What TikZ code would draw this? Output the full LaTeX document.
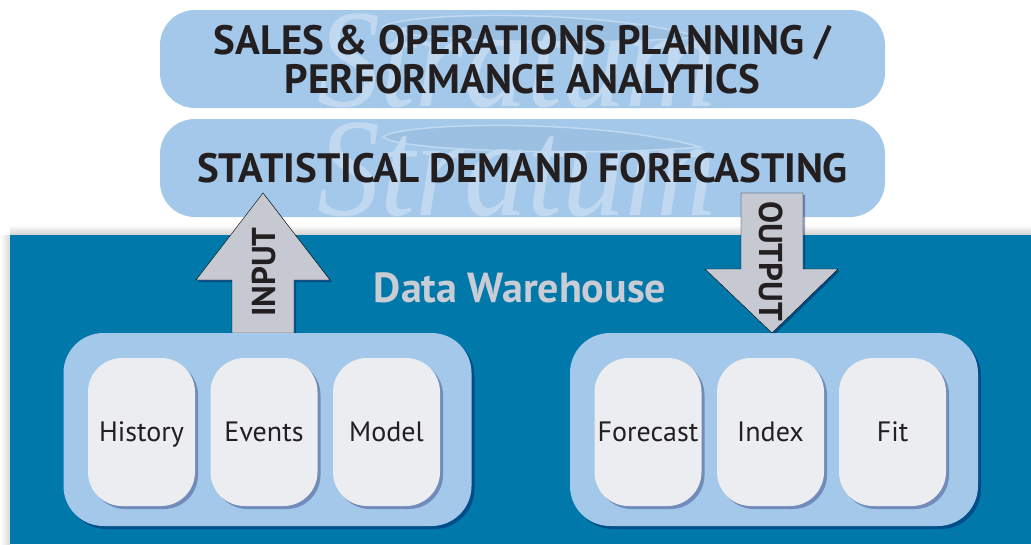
\documentclass[tikz,border=0pt]{standalone}
\usepackage{fontspec}
\setmainfont{PT Sans}
\newfontfamily\logofont{Liberation Serif}
\usetikzlibrary{shadows}
\definecolor{boxblue}{HTML}{A3C8EA}
\definecolor{dwblue}{HTML}{0079AA}
\definecolor{cellgrey}{HTML}{ECEDF1}
\definecolor{arrowgrey}{HTML}{C6C9D1}
\definecolor{dwtext}{HTML}{C9CCD4}
\definecolor{logoblue}{HTML}{C0D9F1}
\definecolor{swooshblue}{HTML}{9CC0E2}
\definecolor{inktext}{HTML}{231F20}

\begin{document}
\begin{tikzpicture}[x=1pt,y=-1pt,
  titlebox/.style={fill=boxblue, rounded corners=35pt, minimum width=725pt, minimum height=98pt, inner sep=0pt},
  titletext/.style={font=\bfseries\fontsize{41}{39}\selectfont, text=inktext, align=center},
  logo/.style={font=\logofont\itshape\fontsize{140}{140}\selectfont, text=logoblue, anchor=base, inner sep=0pt, xscale=.9},
  swoosh/.style={fill=swooshblue, draw=logoblue, line width=1.5pt},
  warehouse/.style={fill=dwblue, minimum width=1021pt, minimum height=309pt, inner sep=0pt},
  groupbox/.style={fill=boxblue, rounded corners=40pt, minimum width=408pt, minimum height=193pt, inner sep=0pt,
    drop shadow={shadow xshift=3pt, shadow yshift=-3pt, opacity=.35, fill=black!70!blue}},
  cell/.style={fill=cellgrey, rounded corners=34pt, minimum width=107pt, minimum height=148pt, inner sep=0pt,
    font=\fontsize{28}{28}\selectfont, text=inktext, text height=19pt, text depth=0pt,
    drop shadow={shadow xshift=3pt, shadow yshift=-3pt, opacity=.3, fill=black!70!blue}},
  blockarrow/.style={fill=arrowgrey, drop shadow={shadow xshift=2pt, shadow yshift=-2pt, opacity=.35, fill=black!70!blue}},
  arrowtext/.style={font=\bfseries\fontsize{33}{33}\selectfont, text=inktext, inner sep=0pt}]
\useasboundingbox (0,0) rectangle (1031,544);

% planning and forecasting bars
\node[titlebox] (sop) at (522.5,59) {};
\node[titlebox] (sdf) at (522.5,168) {};
\begin{scope}
\clip[rounded corners=35pt] (sop.south west) rectangle (sop.north east);
\fill[swoosh] (383,27) .. controls (400,12) and (600,8) .. (700,37) .. controls (600,46) and (400,42) .. (383,27) -- cycle;
\node[logo] (soplogo) at (517,106) {Stratum};
\end{scope}
\begin{scope}
\clip[rounded corners=35pt] (sdf.south west) rectangle (sdf.north east);
\fill[swoosh] (383,137) .. controls (400,122) and (600,118) .. (700,147) .. controls (600,156) and (400,152) .. (383,137) -- cycle;
\node[logo] (sdflogo) at (517,215) {Stratum};
\end{scope}
\node[titletext] (soptext) at (522.5,60) {SALES \& OPERATIONS PLANNING /\\PERFORMANCE ANALYTICS};
\node[titletext] (sdftext) at (sdf) {STATISTICAL DEMAND FORECASTING};

% data warehouse
\shade[top color=white, bottom color=black!18] (10,225) rectangle (1031,235);
\shade[left color=white, right color=black!15] (0,235) rectangle (10,544);
\node[warehouse] (dw) at (520.5,389.5) {};
\node[font=\bfseries\fontsize{42}{42}\selectfont, text=dwtext] (dwtitle) at (520,288) {Data Warehouse};

% input / output arrows
\draw[blockarrow] (232,333) -- (232,280) -- (196,280) -- (263,193) -- (330,280) -- (294,280) -- (294,333) -- cycle;
\node[arrowtext, rotate=90] (input) at (264,272) {INPUT};
\draw[blockarrow] (741,193) -- (803,193) -- (803,269) -- (838,269) -- (772,333) -- (705,269) -- (741,269) -- cycle;
\node[arrowtext, rotate=-90] (output) at (771,261) {OUTPUT};

% stored tables
\node[groupbox] (inbox) at (267.5,429.5) {};
\node[groupbox] (outbox) at (774,429.5) {};
\node[cell] (history) at (141.5,432) {History};
\node[cell] (events) at (264,432) {Events};
\node[cell] (model) at (386.5,432) {Model};
\node[cell] (forecast) at (648,432) {Forecast};
\node[cell] (index) at (770.5,432) {Index};
\node[cell] (fit) at (892.5,432) {Fit};
\end{tikzpicture}
\end{document}
